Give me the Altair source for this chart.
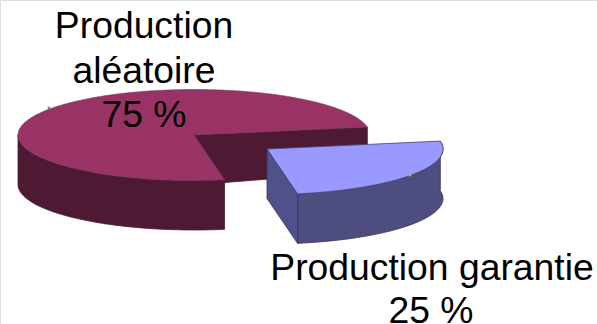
import numpy as np
import pandas as pd
import altair as alt

# Shares of the two production types
labels = ["Production aléatoire", "Production garantie"]
shares = [75, 25]

WIDTH, HEIGHT = 597, 324
RX, RY = 176, 45.5           # ellipse radii of the tilted disc
DEPTH = 49.5                 # wall height of the disc
START = 80                   # angle where the large sector begins (degrees, clockwise on screen)
BIG = (194, 135)             # centre of the large sector
SMALL = (267, 149)           # centre of the pulled-out sector

big_sweep = shares[0] * 3.6
small_sweep = shares[1] * 3.6


def rim(centre, a0, a1, dy=0.0):
    """Points along the elliptical rim between two angles."""
    steps = max(int(abs(a1 - a0)), 2) + 1
    t = np.radians(np.linspace(a0, a1, steps))
    return list(zip(centre[0] + RX * np.cos(t), centre[1] + dy + RY * np.sin(t)))


def sector(centre, a0, a1):
    return [centre] + rim(centre, a0, a1) + [centre]


def outer_wall(centre, a0, a1):
    return rim(centre, a0, a1) + rim(centre, a1, a0, DEPTH) + rim(centre, a0, a0)


def cut_wall(centre, angle, near=DEPTH, far=DEPTH):
    edge = rim(centre, angle, angle)[0]
    return [centre, edge, (edge[0], edge[1] + far), (centre[0], centre[1] + near), centre]


x_scale = alt.Scale(domain=[0, WIDTH], nice=False, zero=False)
y_scale = alt.Scale(domain=[HEIGHT, 0], nice=False, zero=False)
x_enc = alt.X("x:Q", scale=x_scale, axis=None)
y_enc = alt.Y("y:Q", scale=y_scale, axis=None)


def face(points, fill, stroke=None, stroke_width=0.8):
    df = pd.DataFrame(points, columns=["x", "y"])
    df["i"] = range(len(df))
    style = {"fill": fill, "strokeWidth": stroke_width, "stroke": stroke or fill}
    return alt.Chart(df).mark_line(**style, clip=False).encode(
        x=x_enc, y=y_enc, order=alt.Order("i:Q"),
    )


def text_layer(rows):
    df = pd.DataFrame(rows, columns=["x", "y", "text"])
    return alt.Chart(df).mark_text(
        font="Liberation Sans", fontSize=37.3, color="#000000",
        align="center", baseline="alphabetic",
    ).encode(x=x_enc, y=y_enc, text="text:N")


def speck(x, y, colour):
    df = pd.DataFrame({"x": [x], "y": [y]})
    return alt.Chart(df).mark_circle(size=9, color=colour, opacity=0.9).encode(x=x_enc, y=y_enc)


big_end = START + big_sweep
small_start = START - small_sweep

layers = [
    # Large sector: inner cut, outer wall, top face
    face(cut_wall(BIG, small_start, near=50, far=44), "#4D1933"),
    face(outer_wall(BIG, START, 180), "#4D1933"),
    face(sector(BIG, START, big_end), "#993366", stroke="#7A3A5C", stroke_width=0.6),
    # Pulled-out sector: cut face, outer wall, top face
    face(cut_wall(SMALL, START), "#50508A", stroke="#34345F"),
    face(outer_wall(SMALL, small_start, START), "#4D4D80", stroke="#34345F"),
    face(sector(SMALL, small_start, START), "#9999FF", stroke="#45456F"),
    # Small handles sitting on the rims
    speck(49, 108, "#6E7A78"),
    speck(410, 175, "#B8B060"),
    text_layer([
        (144, 38, "Production"),
        (144, 83, "aléatoire"),
        (144, 127, "75 %"),
        (432, 280, "Production garantie"),
        (431, 323, "25 %"),
    ]),
]

chart = alt.layer(*layers).properties(
    width=WIDTH, height=HEIGHT, padding=0,
    autosize=alt.AutoSizeParams(type="none"),
).configure_view(stroke=None).configure(background="#FFFFFF")

chart.save("out.html", embed_options={"renderer": "svg", "actions": False})
